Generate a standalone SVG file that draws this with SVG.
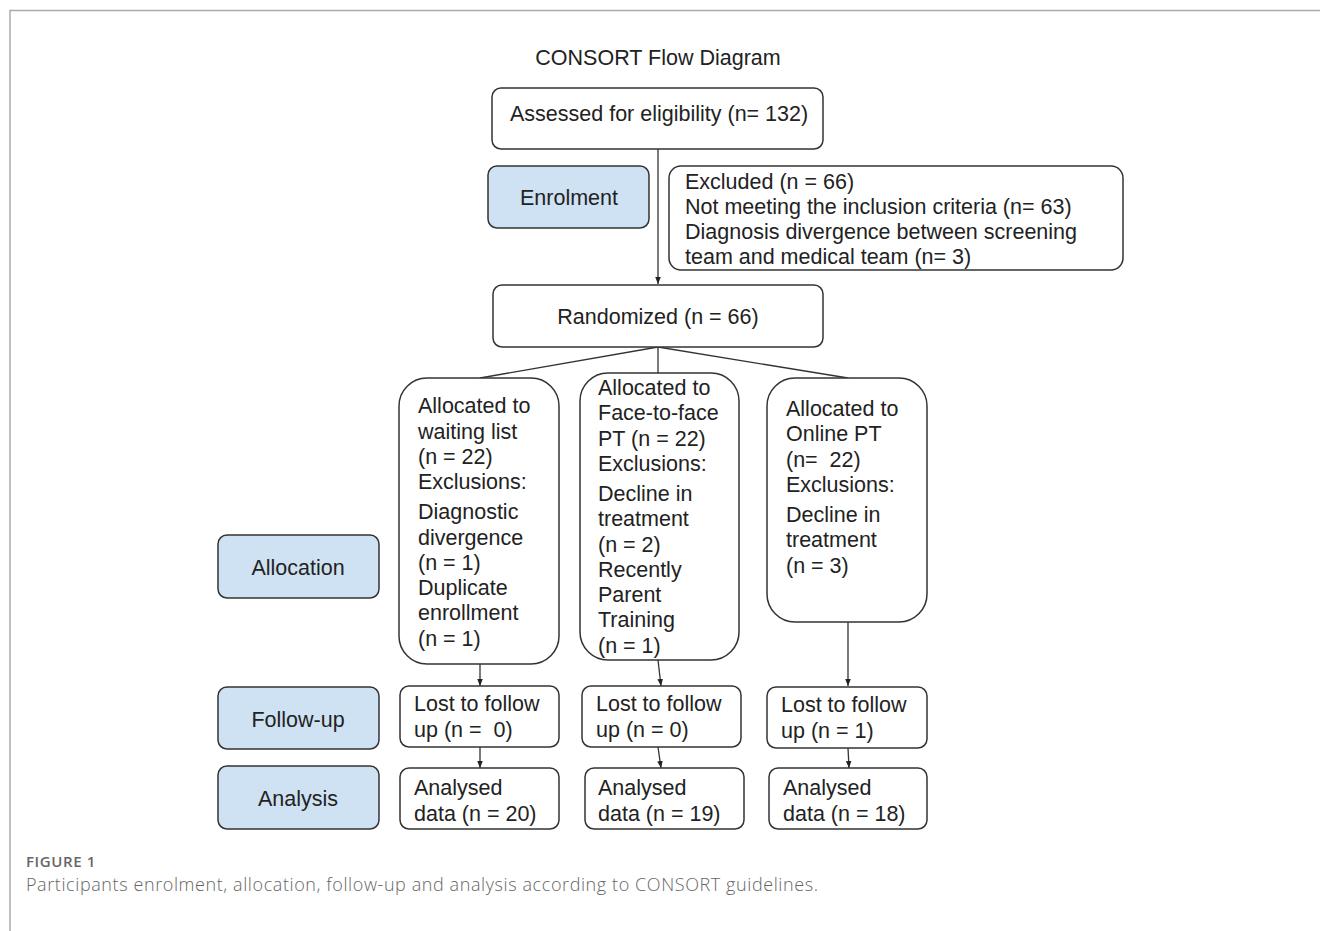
<svg xmlns="http://www.w3.org/2000/svg" width="1320" height="931" viewBox="0 0 1320 931">
<defs>
<marker id="ah" viewBox="0 0 10 10" refX="10" refY="5" markerWidth="7" markerHeight="7" orient="auto" markerUnits="userSpaceOnUse"><path d="M0,1 L10,5 L0,9 z" fill="#222"/></marker>
<style>
.box{fill:#fff;stroke:#333;stroke-width:1.5}
.stage{fill:#cfe2f3;stroke:#333;stroke-width:1.5}
.t{font-family:"Liberation Sans",Arial,sans-serif;font-size:21.5px;fill:#222}
.tc{font-family:"Liberation Sans",Arial,sans-serif;font-size:21.5px;fill:#222;text-anchor:middle}
.ln{stroke:#333;stroke-width:1.3;fill:none}
.cap{font-family:"Open Sans",sans-serif;fill:#666}
</style>
</defs>
<rect width="1320" height="931" fill="#fff"/>
<path d="M10,931 V10.5 H1320" fill="none" stroke="#aaa" stroke-width="1.5"/>
<text class="tc" x="658" y="65">CONSORT Flow Diagram</text>

<g id="connectors">
<line class="ln" x1="658" y1="149" x2="658" y2="284" marker-end="url(#ah)"/>
<line class="ln" x1="658" y1="347" x2="480" y2="378"/>
<line class="ln" x1="658" y1="347" x2="658" y2="373"/>
<line class="ln" x1="658" y1="347" x2="848" y2="378"/>
<line class="ln" x1="480" y1="664" x2="480" y2="686" marker-end="url(#ah)"/>
<line class="ln" x1="658" y1="660" x2="661" y2="686" marker-end="url(#ah)"/>
<line class="ln" x1="848" y1="622" x2="848" y2="686" marker-end="url(#ah)"/>
<line class="ln" x1="480" y1="747" x2="480" y2="768" marker-end="url(#ah)"/>
<line class="ln" x1="658" y1="747" x2="661" y2="768" marker-end="url(#ah)"/>
<line class="ln" x1="848" y1="748" x2="849" y2="768" marker-end="url(#ah)"/>
</g>

<g id="assessed"><rect class="box" x="492" y="88" width="331" height="61" rx="9"/><text class="t" x="510" y="121">Assessed for eligibility (n= 132)</text></g>
<g id="enrolment"><rect class="stage" x="488" y="166" width="161" height="62" rx="9"/><text class="tc" x="569" y="205">Enrolment</text></g>
<g id="excluded"><rect class="box" x="669" y="166" width="454" height="104" rx="12"/>
<text class="t" x="685" y="189">Excluded (n = 66)</text>
<text class="t" x="685" y="214">Not meeting the inclusion criteria (n= 63)</text>
<text class="t" x="685" y="239">Diagnosis divergence between screening</text>
<text class="t" x="685" y="264">team and medical team (n= 3)</text></g>
<g id="randomized"><rect class="box" x="493" y="285" width="330" height="62" rx="9"/><text class="tc" x="658" y="324">Randomized (n = 66)</text></g>

<g id="alloc-waiting"><rect class="box" x="399" y="378" width="160" height="286" rx="28"/>
<text class="t" x="418" y="413">Allocated to</text>
<text class="t" x="418" y="439">waiting list</text>
<text class="t" x="418" y="464">(n = 22)</text>
<text class="t" x="418" y="489">Exclusions:</text>
<text class="t" x="418" y="519">Diagnostic</text>
<text class="t" x="418" y="545">divergence</text>
<text class="t" x="418" y="570">(n = 1)</text>
<text class="t" x="418" y="595">Duplicate</text>
<text class="t" x="418" y="620">enrollment</text>
<text class="t" x="418" y="646">(n = 1)</text></g>

<g id="alloc-face"><rect class="box" x="580" y="373" width="159" height="287" rx="28"/>
<text class="t" x="598" y="395">Allocated to</text>
<text class="t" x="598" y="420">Face-to-face</text>
<text class="t" x="598" y="446">PT (n = 22)</text>
<text class="t" x="598" y="471">Exclusions:</text>
<text class="t" x="598" y="501">Decline in</text>
<text class="t" x="598" y="526">treatment</text>
<text class="t" x="598" y="552">(n = 2)</text>
<text class="t" x="598" y="577">Recently</text>
<text class="t" x="598" y="602">Parent</text>
<text class="t" x="598" y="627">Training</text>
<text class="t" x="598" y="653">(n = 1)</text></g>

<g id="alloc-online"><rect class="box" x="767" y="378" width="160" height="244" rx="28"/>
<text class="t" x="786" y="416">Allocated to</text>
<text class="t" x="786" y="441">Online PT</text>
<text class="t" x="786" y="467" xml:space="preserve">(n=  22)</text>
<text class="t" x="786" y="492">Exclusions:</text>
<text class="t" x="786" y="522">Decline in</text>
<text class="t" x="786" y="547">treatment</text>
<text class="t" x="786" y="573">(n = 3)</text></g>

<g id="allocation"><rect class="stage" x="218" y="535" width="161" height="63" rx="9"/><text class="tc" x="298" y="575">Allocation</text></g>

<g id="followup"><rect class="stage" x="218" y="687" width="161" height="62" rx="9"/><text class="tc" x="298" y="727">Follow-up</text></g>
<g id="lost-1"><rect class="box" x="400" y="686" width="159" height="61" rx="9"/><text class="t" x="414" y="711">Lost to follow</text><text class="t" x="414" y="737" xml:space="preserve">up (n =  0)</text></g>
<g id="lost-2"><rect class="box" x="582" y="686" width="159" height="61" rx="9"/><text class="t" x="596" y="711">Lost to follow</text><text class="t" x="596" y="737">up (n = 0)</text></g>
<g id="lost-3"><rect class="box" x="767" y="687" width="160" height="61" rx="9"/><text class="t" x="781" y="712">Lost to follow</text><text class="t" x="781" y="738">up (n = 1)</text></g>

<g id="analysis"><rect class="stage" x="218" y="766" width="161" height="63" rx="9"/><text class="tc" x="298" y="806">Analysis</text></g>
<g id="analysed-1"><rect class="box" x="400" y="768" width="159" height="61" rx="9"/><text class="t" x="414" y="795">Analysed</text><text class="t" x="414" y="821">data (n = 20)</text></g>
<g id="analysed-2"><rect class="box" x="585" y="768" width="159" height="61" rx="9"/><text class="t" x="598" y="795">Analysed</text><text class="t" x="598" y="821">data (n = 19)</text></g>
<g id="analysed-3"><rect class="box" x="769" y="768" width="158" height="61" rx="9"/><text class="t" x="783" y="795">Analysed</text><text class="t" x="783" y="821">data (n = 18)</text></g>

<text class="cap" x="26" y="867" font-size="15" font-weight="600" letter-spacing="0.6">FIGURE 1</text>
<text class="cap" x="26" y="891" font-size="18" font-weight="300" textLength="792" lengthAdjust="spacing">Participants enrolment, allocation, follow-up and analysis according to CONSORT guidelines.</text>
</svg>
